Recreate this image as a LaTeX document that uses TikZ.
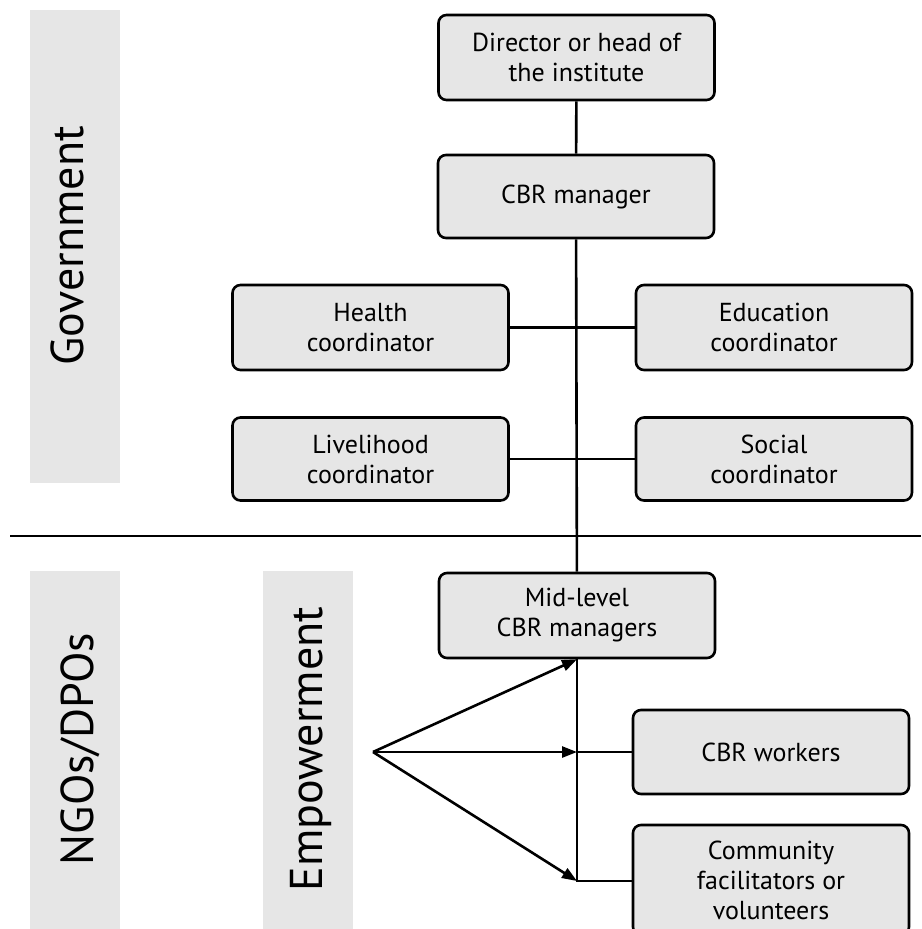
\documentclass[tikz,border=0pt]{standalone}
\usepackage{fontspec}
\setmainfont{PT Sans}
\usetikzlibrary{arrows.meta}
\definecolor{panelgray}{RGB}{230,230,230}

\begin{document}
\begin{tikzpicture}[x=1pt, y=-1pt, line width=2.6pt,
  orgbox/.style={draw, fill=panelgray, rounded corners=8pt, align=center,
    minimum width=276pt, inner sep=0pt, font=\fontsize{26}{30}\selectfont},
  bandlabel/.style={rotate=90, anchor=base, font=\fontsize{46}{50}\selectfont},
  arr/.style={-{Triangle[length=15pt, width=11pt]}},
]
  \useasboundingbox (0,0) rectangle (921,929);
  % side bands
  \fill[panelgray] (30,10) rectangle (120,483);
  \fill[panelgray] (30,571) rectangle (120,929);
  \fill[panelgray] (263,571) rectangle (353,929);
  \node[bandlabel] (gov) at (83,246) {Government};
  \node[bandlabel] (ngo) at (93,749) {NGOs/DPOs};
  \node[bandlabel] (emp) at (322,749) {Empowerment};
  \draw (10,536) -- (921,536);
  % boxes
  \node[orgbox, minimum height=85pt] (dir) at (576.5,57.5) {Director or head of\\the institute};
  \node[orgbox, minimum height=83pt] (mgr) at (576,196.5) {CBR manager};
  \node[orgbox, minimum height=85pt] (hlth) at (370.5,327.5) {Health\\coordinator};
  \node[orgbox, minimum height=85pt] (edu) at (774,327.5) {Education\\coordinator};
  \node[orgbox, minimum height=83pt] (lvh) at (370.5,459) {Livelihood\\coordinator};
  \node[orgbox, minimum height=83pt] (soc) at (774,459) {Social\\coordinator};
  \node[orgbox, minimum height=85pt] (mid) at (577,615.5) {Mid-level\\CBR managers};
  \node[orgbox, minimum height=84pt] (wrk) at (771,752) {CBR workers};
  \node[orgbox, minimum height=110pt] (comm) at (771,880) {Community\\facilitators or\\volunteers};
  \coordinate (wk) at (577,752);
  \coordinate (bot) at (577,881);
  \coordinate (src) at (373,752);
  % connectors
  \draw (dir) -- (mgr);
  \draw (mgr) -- (mid);
  \draw (hlth) -- (edu);
  \draw (lvh) -- (soc);
  \draw (mid.south) -- (bot) -- (bot -| comm.west);
  \draw (wk) -- (wk -| wrk.west);
  \foreach \t in {mid.south, wk, bot} \draw[arr] (src) -- (\t);
\end{tikzpicture}
\end{document}
